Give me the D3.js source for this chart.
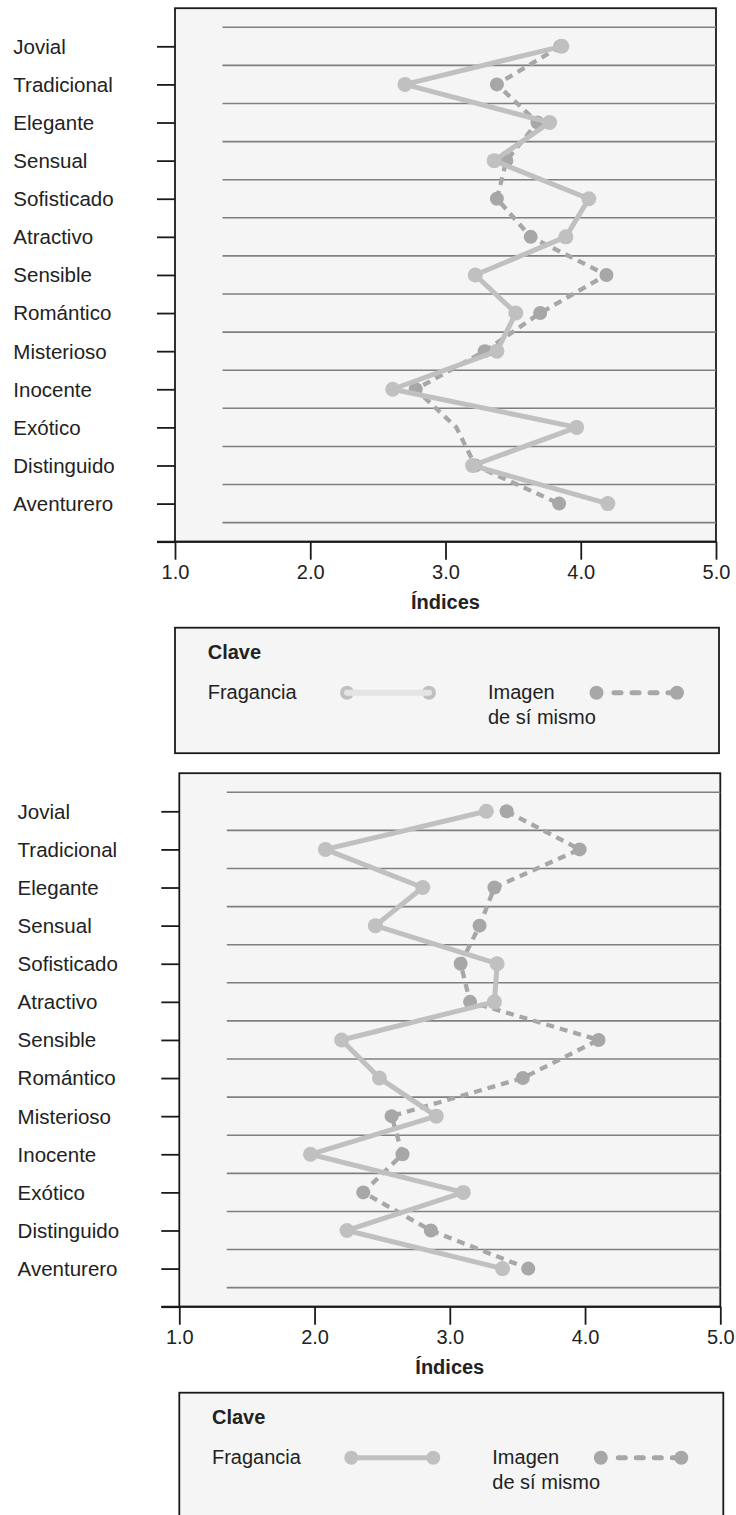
<!DOCTYPE html>
<html>
<head>
<meta charset="utf-8">
<script src="https://cdn.jsdelivr.net/npm/d3@7"></script>
<style>
  body { margin: 0; background: #fff; }
  svg { display: block; font-family: "Liberation Sans", Arial, sans-serif; }
</style>
</head>
<body>
<svg id="chart"></svg>
<script>
const categorias = [
  "Jovial", "Tradicional", "Elegante", "Sensual", "Sofisticado", "Atractivo",
  "Sensible", "Romántico", "Misterioso", "Inocente", "Exótico", "Distinguido",
  "Aventurero",
];

// panel superior
const fraganciaA = [3.86, 2.70, 3.77, 3.36, 4.06, 3.89, 3.22, 3.52, 3.38, 2.61, 3.97, 3.20, 4.20];
const imagenA = [3.85, 3.38, 3.68, 3.45, 3.38, 3.63, 4.19, 3.70, 3.29, 2.78, 3.08, 3.22, 3.84];
// en el original no se dibuja el punto de esta categoría
const imagenSinPuntoA = ["Exótico"];

// panel inferior
const fraganciaB = [3.27, 2.08, 2.80, 2.45, 3.35, 3.33, 2.20, 2.48, 2.90, 1.97, 3.10, 2.24, 3.39];
const imagenB = [3.42, 3.96, 3.33, 3.22, 3.08, 3.15, 4.10, 3.54, 2.57, 2.65, 2.36, 2.86, 3.58];
const imagenSinPuntoB = [];

const ticksX = [1, 2, 3, 4, 5];
const tituloX = "Índices";
const leyenda = { titulo: "Clave", serie1: "Fragancia", serie2: ["Imagen", "de sí mismo"] };

const colorFrag = "#c0c0c0";
const colorImagen = "#a7a7a7";
const colorTexto = "#222";

const svg = d3.select("#chart").attr("width", 736).attr("height", 1515);
svg.append("rect").attr("width", 736).attr("height", 1515).attr("fill", "#fff");

const drawPanel = (opts) => {
  const { left, top, fragancia, imagen, sinPunto, legendLight } = opts;
  const width = 541, height = 533.5;
  const g = svg.append("g").attr("transform", `translate(${left}, ${top})`);

  const x = d3.scaleLinear().domain([1, 5]).range([0, width]);
  const y = d3.scaleLinear().domain([0, categorias.length + 1]).range([0, height]);

  // frame
  g.append("rect")
    .attr("width", width)
    .attr("height", height)
    .attr("fill", "#f5f5f5")
    .attr("stroke", "#1a1a1a")
    .attr("stroke-width", 1.8);

  // horizontal gridlines between categories
  g.selectAll("line.grid")
    .data(d3.range(0.5, categorias.length + 1, 1))
    .join("line")
    .attr("class", "grid")
    .attr("x1", 47.5)
    .attr("x2", width)
    .attr("y1", (d) => y(d))
    .attr("y2", (d) => y(d))
    .attr("stroke", "#7f7f7f")
    .attr("stroke-width", 1.6);

  // y ticks
  const yAxis = g.append("g")
    .call(d3.axisLeft(y).tickValues(d3.range(1, categorias.length + 2)).tickSize(18).tickFormat(""));
  yAxis.select(".domain").remove();
  yAxis.selectAll(".tick line").attr("stroke", "#1a1a1a").attr("stroke-width", 1.8);

  // category labels
  g.selectAll("text.cat")
    .data(categorias)
    .join("text")
    .attr("class", "cat")
    .attr("x", -161.7)
    .attr("y", (d, i) => y(i + 1))
    .attr("dy", "0.36em")
    .attr("font-size", 20.5)
    .attr("fill", colorTexto)
    .text((d) => d);

  // x axis
  const xAxis = g.append("g")
    .attr("transform", `translate(0, ${height})`)
    .call(d3.axisBottom(x).tickValues(ticksX).tickSize(18).tickPadding(5.5).tickFormat(d3.format(".1f")));
  xAxis.select(".domain").remove();
  xAxis.selectAll(".tick line").attr("stroke", "#1a1a1a").attr("stroke-width", 1.8);
  xAxis.selectAll(".tick text")
    .attr("font-size", 20)
    .attr("font-family", "Liberation Sans, Arial, sans-serif")
    .attr("fill", colorTexto);
  g.append("line")
    .attr("x1", -18)
    .attr("x2", width)
    .attr("y1", height)
    .attr("y2", height)
    .attr("stroke", "#1a1a1a")
    .attr("stroke-width", 2);

  g.append("text")
    .attr("x", width / 2)
    .attr("y", height + 67.5)
    .attr("text-anchor", "middle")
    .attr("font-size", 20)
    .attr("font-weight", "bold")
    .attr("fill", colorTexto)
    .text(tituloX);

  // series
  const line = d3.line()
    .x((d) => x(d.v))
    .y((d) => y(d.i + 1));
  const imgData = imagen.map((v, i) => ({ v, i, c: categorias[i] }));
  const fragData = fragancia.map((v, i) => ({ v, i, c: categorias[i] }));

  g.append("path")
    .datum(imgData)
    .attr("fill", "none")
    .attr("stroke", colorImagen)
    .attr("stroke-width", 4.3)
    .attr("stroke-dasharray", "8,6")
    .attr("d", line);
  g.selectAll("circle.img")
    .data(imgData.filter((d) => !sinPunto.includes(d.c)))
    .join("circle")
    .attr("class", "img")
    .attr("cx", (d) => x(d.v))
    .attr("cy", (d) => y(d.i + 1))
    .attr("r", 7)
    .attr("fill", colorImagen);

  g.append("path")
    .datum(fragData)
    .attr("fill", "none")
    .attr("stroke", colorFrag)
    .attr("stroke-width", 5)
    .attr("stroke-linejoin", "round")
    .attr("d", line);
  g.selectAll("circle.frag")
    .data(fragData)
    .join("circle")
    .attr("class", "frag")
    .attr("cx", (d) => x(d.v))
    .attr("cy", (d) => y(d.i + 1))
    .attr("r", 7.5)
    .attr("fill", colorFrag);

  // legend
  const lg = g.append("g").attr("transform", `translate(0, ${height + 86})`);
  lg.append("rect")
    .attr("width", width + 3)
    .attr("height", 125.5)
    .attr("fill", "#f5f5f5")
    .attr("stroke", "#1a1a1a")
    .attr("stroke-width", 1.8);
  lg.append("text")
    .attr("x", 32.7)
    .attr("y", 24)
    .attr("dy", "0.36em")
    .attr("font-size", 20)
    .attr("font-weight", "bold")
    .attr("fill", colorTexto)
    .text(leyenda.titulo);
  lg.append("text")
    .attr("x", 32.7)
    .attr("y", 64)
    .attr("dy", "0.36em")
    .attr("font-size", 20)
    .attr("fill", colorTexto)
    .text(leyenda.serie1);
  lg.selectAll("text.s2")
    .data(leyenda.serie2)
    .join("text")
    .attr("class", "s2")
    .attr("x", 313)
    .attr("y", (d, i) => 64 + i * 25)
    .attr("dy", "0.36em")
    .attr("font-size", 20)
    .attr("fill", colorTexto)
    .text((d) => d);

  // fragancia key
  const fx = [172, 254];
  lg.selectAll("circle.kf")
    .data(fx)
    .join("circle")
    .attr("class", "kf")
    .attr("cx", (d) => d)
    .attr("cy", 65)
    .attr("r", 7)
    .attr("fill", colorFrag);
  lg.append("line")
    .attr("x1", fx[0])
    .attr("x2", fx[1])
    .attr("y1", 65)
    .attr("y2", 65)
    .attr("stroke", legendLight ? "#e4e4e4" : colorFrag)
    .attr("stroke-width", legendLight ? 6 : 5)
    .attr("stroke-linecap", legendLight ? "round" : "butt");

  // imagen key
  const ix = [421.5, 502];
  lg.append("line")
    .attr("x1", ix[0] + 17.5)
    .attr("x2", ix[1])
    .attr("y1", 65)
    .attr("y2", 65)
    .attr("stroke", colorImagen)
    .attr("stroke-width", 5)
    .attr("stroke-linecap", "round")
    .attr("stroke-dasharray", "7,11");
  lg.selectAll("circle.ki")
    .data(ix)
    .join("circle")
    .attr("class", "ki")
    .attr("cx", (d) => d)
    .attr("cy", 65)
    .attr("r", 7)
    .attr("fill", colorImagen);
};

drawPanel({ left: 175, top: 8.2, fragancia: fraganciaA, imagen: imagenA, sinPunto: imagenSinPuntoA, legendLight: true });
drawPanel({ left: 179.3, top: 773.2, fragancia: fraganciaB, imagen: imagenB, sinPunto: imagenSinPuntoB, legendLight: false });
</script>
</body>
</html>
